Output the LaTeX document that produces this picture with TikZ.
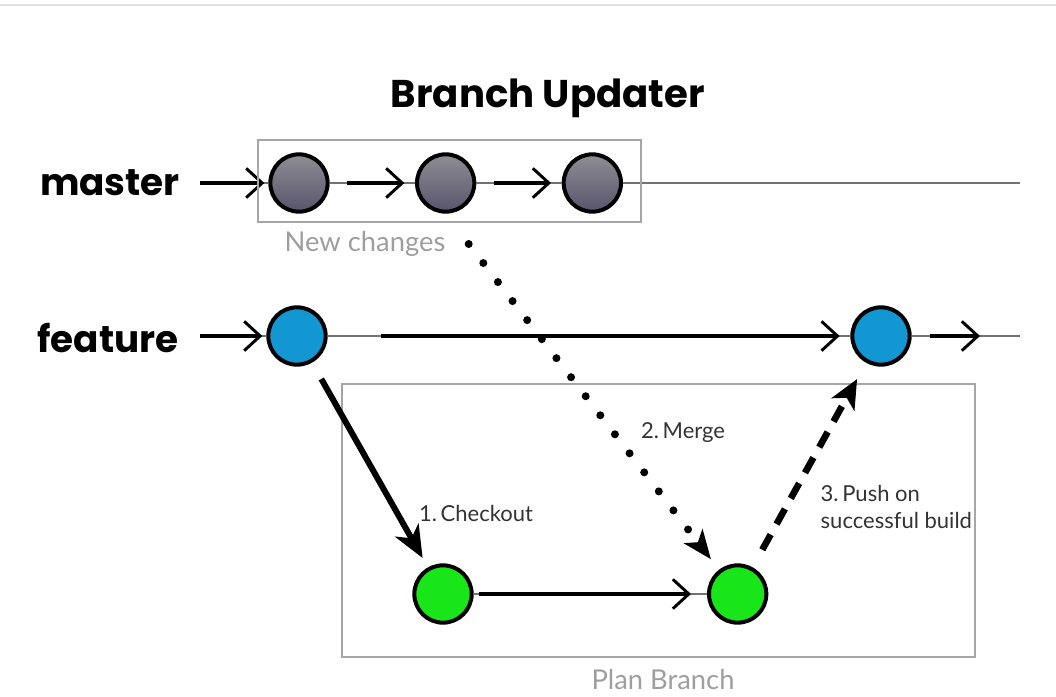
\documentclass[tikz,border=0pt]{standalone}
\usepackage{fontspec}
\usepackage{tikz}
\usetikzlibrary{arrows.meta, backgrounds, calc, positioning}
\newfontfamily\handfont{Poppins}
\newfontfamily\labelfont{Lato}
\definecolor{featureblue}{RGB}{18,151,210}
\definecolor{plangreen}{RGB}{24,230,24}
\definecolor{mastertop}{RGB}{142,142,148}
\definecolor{masterbottom}{RGB}{88,84,108}
\tikzstyle{commit}=[circle, draw=black, line width=3pt, minimum size=43pt, inner sep=0pt]
\tikzstyle{master commit}=[commit, top color=mastertop, bottom color=masterbottom]
\tikzstyle{feature commit}=[commit, fill=featureblue]
\tikzstyle{plan commit}=[commit, fill=plangreen]
\tikzstyle{branch}=[draw=black!55, line width=1.5pt]
\tikzstyle{hop}=[draw=black, line width=2.4pt, -{Straight Barb[length=12pt, width=22pt, line width=2.2pt]}]
\tikzstyle{box}=[draw=black!35, line width=1.2pt]
\tikzstyle{branchname}=[font=\handfont\bfseries\fontsize{28}{30}\selectfont]
\tikzstyle{caption}=[text=black!38, font=\labelfont\fontsize{20.5}{22}\selectfont]
\tikzstyle{note}=[text=black!80, font=\labelfont\fontsize{16.5}{20.5}\selectfont, align=left]

\begin{document}
\begin{tikzpicture}[x=0.75pt, y=-0.75pt, node distance=64pt]
  \useasboundingbox (0,0) rectangle (1056,696);
  \draw[black!12, line width=2pt] (0,5) -- (1056,5);

  \node[font=\handfont\bfseries\fontsize{29}{31}\selectfont] (title) at (548,98) {Branch Updater};

  % master
  \node[branchname] (master) at (110,183) {master};
  \coordinate (m0) at (200,183);
  \coordinate (m4) at (1020,183);
  \node[master commit] (m1) at (299,183) {};
  \node[master commit] (m2) [right=of m1] {};
  \node[master commit] (m3) [right=of m2] {};
  \draw[branch] (m0) -- (m1) -- (m2) -- (m3) -- (m4);
  \draw[hop] (m0) -- ([xshift=-3pt]m1.west);
  \draw[hop] ([xshift=13pt]m1.east) -- ([xshift=-8pt]m2.west);
  \draw[hop] ([xshift=13pt]m2.east) -- ([xshift=-8pt]m3.west);
  \draw[box] (258,140) rectangle (641,222);
  \node[caption] (changes) at (365,244) {New changes};

  % feature
  \node[branchname] (feature) at (108,338) {feature};
  \coordinate (f0) at (200,336);
  \coordinate (f3) at (1020,336);
  \node[feature commit] (f1) at (297,336) {};
  \node[feature commit] (f2) at (881,336) {};
  \draw[branch] (f0) -- (f1) -- (f2) -- (f3);
  \draw[hop] (f0) -- ([xshift=-3pt]f1.west);
  \draw[hop] ([xshift=40pt]f1.east) -- ([xshift=-8pt]f2.west);
  \draw[hop] ([xshift=14pt]f2.east) -- ([xshift=-30pt]f3);

  % plan branch
  \draw[box] (342,384) rectangle (975,657);
  \node[plan commit] (p1) at (443,594) {};
  \node[plan commit] (p2) [right=175pt of p1] {};
  \draw[branch] (p1) -- (p2);
  \draw[hop] ([xshift=4pt]p1.east) -- ([xshift=-12pt]p2.west);
  \node[caption] (plan) at (663,680) {Plan Branch};

  % steps
  \draw[line width=4.5pt, -{Stealth[length=24pt, width=20pt, inset=7pt]}, shorten <=14pt, shorten >=8pt] (f1) -- (p1);
  \draw[line width=6pt, line cap=round, dash pattern=on 0pt off 18pt, shorten >=10pt,
    -{Stealth[length=22pt, width=18pt, inset=6pt, line width=0pt, line cap=butt]}] ([xshift=14pt]changes.east) -- (p2);
  \draw[line width=5pt, dash pattern=on 13pt off 9pt, shorten <=15pt, shorten >=14pt,
    -{Stealth[length=22pt, width=20pt, inset=6pt, line width=0pt]}] (p2) -- (f2);
  \node[note] (checkout) at (476,513) {1.\,Checkout};
  \node[note] (merge) at (683,433) {2.\,Merge};
  \node[note, anchor=west] (push) at (816,507) {3.\,Push on\\successful build};
\end{tikzpicture}
\end{document}
